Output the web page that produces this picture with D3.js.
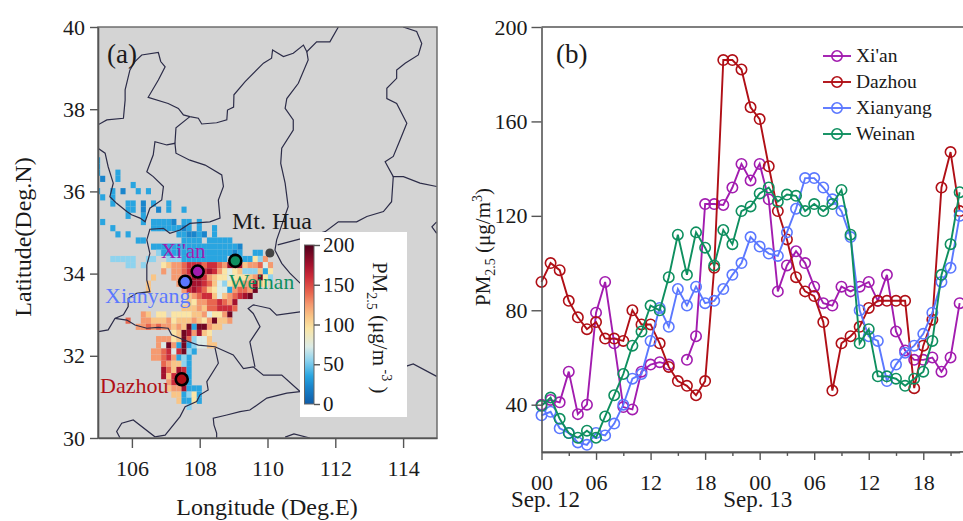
<!DOCTYPE html>
<html>
<head>
<meta charset="utf-8">
<script src="https://cdn.jsdelivr.net/npm/d3@7"></script>
<style>
html, body { margin: 0; padding: 0; background: #fff; overflow: hidden; }
svg { display: block; }
text { font-family: "Liberation Serif", serif; fill: #1a1a1a; }
</style>
</head>
<body>
<svg id="chart" width="963" height="521"></svg>
<script>
/*Panel (b) values, one per hour from Sep. 12 00:00. null means no observation*/
const hours = d3.range(0, 47);
const xianValues = [40,42,41,54,36,40,79,92,66,39,38,54,57,58,57,null,59,69,125,125,124.6,132,142,135,142,127,88,99,105,100,90,83,82,90,88,90,92,84,95,71,63,59,59,60,54,60,83];
const dazhouValues = [92,100,97,84,77,72,75,68,68,67,80,74,74,66,56,50,48,44,50,98,186,186,182,166,161,141,122,110,94,88,86,75,46,66,69,73,81,84,84,84,84,47,65,76,132,147,122];
const xianyangValues = [35.5,37,30,28,24,23,28,27,32,40,51,53,67,81,73,89,82,90,83,84,89,95,100,111,107,104,103,113,123,136,136,132,127,122,111,80,69,67,50,57,62,65,70,79,92,98,120];
const weinanValues = [39.5,43,34,28,26,29,26,35,44,53,65,71,82,80,94,112,95,113,106.5,99,114,108,122,124,129.5,132,126,129,128.5,122,125,122,125,131,112,66,72,52,52,51,48,51,54,67,95,108,130];
const seriesNames = ["Xi'an", "Dazhou", "Xianyang", "Weinan"];
const seriesValues = [xianValues, dazhouValues, xianyangValues, weinanValues];
const seriesColors = ["#a21caf", "#b00f16", "#5b78ff", "#0e8f5f"];
const hourTicks = [0, 6, 12, 18, 24, 30, 36, 42];
const hourLabels = ["00", "06", "12", "18", "00", "06", "12", "18"];
const pmTicks = [40, 80, 120, 160, 200];

/*Panel (a) sites as lon, lat*/
const siteLon = [107.94, 107.47, 107.57, 109.05];
const siteLat = [34.05, 31.43, 33.80, 34.31];
const huaLon = 110.07;
const huaLat = 34.50;

/*Heat cells: [grid row, first grid column, one letter per cell]. Letters are looked up in cellLevels.
Grid is 0.15 deg in both directions, see gridLon0 and gridLat0*/
const gridLon0 = 105.063;
const gridLat0 = 36.23;
const gridStep = 0.15;
const cellLevels = {a:22, b:35, c:55, d:72, e:95, f:110, g:125, h:140, i:160, j:175, k:190};
const heatSegments = [
    [-4,-1,"b"],[-3,-1,"b"],[-2,-1,"b"],[-2,3,"b"],[-1,0,"a"],[-1,3,"b"],
    [0,6,"b"],
    [1,-1,"b"],[1,2,"b"],[1,4,"a"],[1,7,"b"],[1,9,"b"],
    [2,0,"b"],[2,2,"b"],
    [3,2,"b"],[3,5,"bb"],[3,8,"a"],[3,10,"b"],[3,13,"b"],
    [4,5,"bb"],[4,8,"a"],[4,11,"a"],[4,13,"b"],[4,16,"b"],
    [5,5,"b"],[5,8,"b"],
    [6,0,"b"],[6,8,"b"],[6,10,"bbbba"],[6,16,"bb"],[6,19,"b"],
    [7,2,"b"],[7,10,"bbbbbbab"],[7,19,"b"],[7,22,"b"],
    [8,3,"b"],[8,5,"b"],[8,15,"bbaab"],[8,20,"a"],[8,22,"b"],
    [9,7,"bb"],[9,16,"bbbb"],[9,21,"bbbb"],[9,25,"b"],
    [10,10,"bbbbbbbbbbbbbbbbba"],
    [11,11,"cbbbbbbbbbbbbbbab"],[11,30,"bb"],
    [12,2,"ccccc"],[12,9,"cc"],[12,13,"ccc"],[12,16,"bbbbbbbbb"],[12,27,"bb"],[12,29,"b"],[12,30,"e"],[12,31,"c"],[12,32,"g"],
    [13,5,"cc"],[13,8,"c"],[13,12,"efgghiiihiihgjjjfgghdg"],
    [14,12,"g"],[14,14,"gghijjijigedefcccfbe"],
    [15,10,"f"],[15,14,"gghijjigfeedeeefgkec"],
    [16,9,"f"],[16,15,"ghijjihfdceffggjfe"],
    [17,9,"f"],[17,16,"gijihfeddbghhgk"],
    [18,17,"fghiifdfghijk"],
    [19,17,"fegghhihgj"],
    [20,16,"fffgfhhiiih"],
    [21,8,"gf"],[21,11,"ee"],[21,14,"eeeeffgdeegk"],
    [22,5,"h"],[22,8,"ggfffgefffgfegkffg"],
    [23,7,"gghghggfgfkbkkgff"],
    [24,14,"efkjgjfe"],
    [25,11,"gggefkhcddf"],
    [26,11,"gdkgbkbcddff"],
    [27,10,"gghidikcb"],
    [28,10,"gghigbcb"],
    [29,12,"hgffcb"],
    [30,12,"jhfjib"],
    [31,12,"jfiigb"],
    [32,13,"giijb"],
    [33,13,"fggjbbb"],
    [34,14,"ffbceb"],
    [35,15,"fbbeb"],
    [36,17,"c"]
];

/*Colour table of the PM2.5 scale*/
const colorDomain = [0,22,35,55,72,95,110,125,140,160,175,200];
const colorRange = ["#0f5ca8","#1a85cc","#29a5e0","#8fd3ee","#dcebe6","#fae5a5","#f9c586","#f59a70","#e8664f","#cc2c3a","#a4122e","#4f001c"];
const colorbarTicks = [0, 50, 100, 150, 200];

/*Province borders as [lon, lat] lists*/
const borderLines = [
    [[105,37.62],[105.26,37.74],[105.75,37.78],[105.8,38.22],[105.8,38.47],[105.94,38.95],[106.09,39.16],[106.29,39.32],[106.78,39.38],[106.85,39.16],[106.98,39.03],[106.78,38.71],[106.48,38.29],[107.07,38.14],[107.37,38.02],[107.52,37.86],[107.71,37.82],[107.96,37.78],[108.06,37.64],[108.5,37.67],[108.8,37.74],[108.82,37.98],[109,38.05],[109.01,38.35],[109.34,38.67],[109.88,39.12],[110.12,39.24],[110.15,39.44],[110.47,39.28],[110.76,39.36],[111.06,39.56],[111.16,39.4],[111.45,39.64],[111.84,39.64],[112.09,40]],
    [[111.16,39.4],[111.2,39.2],[110.91,38.63],[110.57,38.26],[110.52,38.02],[110.76,37.74],[110.76,37.49],[110.42,37.05],[110.39,36.68],[110.52,36.2],[110.61,35.63],[110.27,34.82],[110.22,34.57],[110.42,34.25],[110.66,34.01],[111.06,33.69]],
    [[114.99,36.12],[114.5,36.2],[114.01,36.36],[113.71,36.36],[113.66,35.75],[113.42,35.51],[112.93,35.39],[112.63,35.26],[112.09,35.26],[111.7,35.02],[111,34.85],[110.3,34.7]],
    [[114,40],[114.4,39.89],[114.55,39.6],[114.45,39.32],[114.06,39.12],[113.81,38.95],[113.81,38.75],[113.52,38.51],[113.52,38.26],[113.81,38.14],[114.11,37.66],[113.91,37.25],[113.71,36.85],[113.47,36.72],[113.71,36.36]],
    [[114.99,35.26],[114.85,35.14],[114.99,34.98]],
    [[105,37.05],[105.21,36.93],[105.3,36.6],[105.45,36.2],[105.35,35.87],[105.55,35.71],[105.85,35.51],[105.99,35.43],[106.24,35.35],[106.39,35.26],[106.53,35.59],[106.88,35.79],[106.93,36.12],[106.63,36.36],[106.44,36.48],[106.63,36.89],[106.68,37.21],[107.03,37.13],[107.27,37.17],[107.3,36.93],[107.71,36.76],[108.16,36.64],[108.65,36.4],[108.7,36.12],[108.55,35.79],[108.6,35.35],[108.3,35.26],[107.71,35.22],[107.42,35.06],[107.12,34.98],[106.93,35.1],[106.53,35.08],[106.44,34.82],[106.53,34.49],[106.44,34.21],[106.44,33.84],[106.53,33.56],[106.14,33.52],[105.89,33.4],[105.89,33.2],[105.75,33],[105.5,32.91],[105.3,32.63],[105.01,32.59]],
    [[107.71,37.82],[107.3,37.55],[107.27,37.17]],
    [[105.5,32.91],[105.85,32.87],[106.09,32.75],[106.44,32.67],[106.78,32.69],[107.07,32.67],[107.17,32.51],[107.52,32.39],[107.96,32.26],[108.45,32.22],[108.99,32.02],[109.29,31.69],[109.58,31.73],[109.88,31.53],[110.42,31.53],[110.96,31.13]],
    [[108.45,32.2],[108.55,31.82],[108.21,31.37],[108.25,31.17],[108.01,31.05],[107.91,30.89],[107.57,30.76],[107.42,30.52],[106.98,30.07],[106.68,30.03],[106.04,30.44],[105.7,30.36],[105.55,30.16],[105.65,30]],
    [[109.63,31.73],[109.53,32.14],[109.48,32.34],[109.78,32.71],[109.58,33.03],[109.43,33.15],[109.58,33.24],[110.07,33.15],[110.27,32.99],[110.96,33.07]],
    [[108.5,30],[108.5,30.12],[108.42,30.32],[108.4,30.48],[108.8,30.56],[109.19,30.64],[109.48,30.68],[109.98,30.97],[110.57,31.09],[110.96,31.13]],
    [[110.52,30.02],[110.78,30.1],[111.25,30]],
    [[114.1,31.75],[114.3,31.8],[114.99,31.5]]
];

const svg = d3.select("#chart");

/*helper for the axis lines and labels look*/
function styleAxis(g, size){
    g.selectAll("path").attr("stroke", "#555").attr("stroke-width", 1.6);
    g.selectAll("line").attr("stroke", "#555").attr("stroke-width", 1.4);
    g.selectAll("text").style("font-family", '"Liberation Serif", serif').style("font-size", size + "px").attr("fill", "#1a1a1a");
}

/*-----------------------------------panel (a)-----------------------------------*/
const mapX = d3.scaleLinear().domain([105, 115]).range([98, 437]);
const mapY = d3.scaleLinear().domain([30, 40]).range([438, 27]);
const pmColor = d3.scaleLinear().domain(colorDomain).range(colorRange);

svg.append("clipPath").attr("id", "mapClip").append("rect")
    .attr("x", mapX(105)).attr("y", mapY(40))
    .attr("width", mapX(115) - mapX(105)).attr("height", mapY(30) - mapY(40));

svg.append("rect")
    .attr("x", mapX(105)).attr("y", mapY(40))
    .attr("width", mapX(115) - mapX(105)).attr("height", mapY(30) - mapY(40))
    .attr("fill", "#d4d4d4");

const mapLayer = svg.append("g").attr("clip-path", "url(#mapClip)");

/*unpack segments to cells*/
let heatCells = [];
heatSegments.forEach(seg=>{
    seg[2].split("").forEach((ch, i)=>{
        heatCells.push({row: seg[0], col: seg[1] + i, value: cellLevels[ch]});
    });
});

mapLayer.selectAll("rect.cell")
    .data(heatCells)
    .enter()
    .append("rect")
    .attr("class", "cell")
    .attr("x", d=>mapX(gridLon0 + d.col * gridStep))
    .attr("y", d=>mapY(gridLat0 - d.row * gridStep))
    .attr("width", d=>mapX(gridLon0 + (d.col + 1) * gridStep) - mapX(gridLon0 + d.col * gridStep))
    .attr("height", d=>mapY(gridLat0 - (d.row + 1) * gridStep) - mapY(gridLat0 - d.row * gridStep))
    .attr("fill", d=>pmColor(d.value));

const borderPath = d3.line().x(d=>mapX(d[0])).y(d=>mapY(d[1]));
mapLayer.selectAll("path.border")
    .data(borderLines)
    .enter()
    .append("path")
    .attr("class", "border")
    .attr("d", borderPath)
    .attr("fill", "none")
    .attr("stroke", "#2c2c48")
    .attr("stroke-width", 1.2);

/*site labels sit under the colorbar box text order wise, same as the original*/
svg.append("text").attr("x", 161).attr("y", 258).style("font-size", "21px").attr("fill", seriesColors[0]).style("fill", seriesColors[0]).text("Xi'an");
svg.append("text").attr("x", 229).attr("y", 289).style("font-size", "21.5px").style("fill", seriesColors[3]).text("Weinan");
svg.append("text").attr("x", 105).attr("y", 303).style("font-size", "22px").style("fill", seriesColors[2]).text("Xianyang");
svg.append("text").attr("x", 100).attr("y", 393).style("font-size", "22px").style("fill", seriesColors[1]).text("Dazhou");
svg.append("text").attr("x", 232).attr("y", 229).style("font-size", "24px").text("Mt. Hua");
svg.append("text").attr("x", 107).attr("y", 63).style("font-size", "27px").text("(a)");

svg.append("circle").attr("cx", mapX(huaLon)).attr("cy", mapY(huaLat)).attr("r", 4.5).attr("fill", "#444");

svg.selectAll("circle.site")
    .data(seriesNames)
    .enter()
    .append("circle")
    .attr("class", "site")
    .attr("cx", (d, i)=>mapX(siteLon[i]))
    .attr("cy", (d, i)=>mapY(siteLat[i]))
    .attr("r", 6)
    .attr("fill", (d, i)=>seriesColors[i])
    .attr("stroke", "#000")
    .attr("stroke-width", 2.6);

/*colorbar box*/
svg.append("rect").attr("x", 300).attr("y", 232).attr("width", 107).attr("height", 185).attr("fill", "#fff");

const barScale = d3.scaleLinear().domain([0, 200]).range([404, 245]);
const barGradient = svg.append("defs").append("linearGradient")
    .attr("id", "pmGradient")
    .attr("x1", 0).attr("y1", 1).attr("x2", 0).attr("y2", 0);
barGradient.selectAll("stop")
    .data(colorDomain.concat([]))
    .enter()
    .append("stop")
    .attr("offset", d=>d / 200)
    .attr("stop-color", d=>pmColor(d));

svg.append("rect")
    .attr("x", 304.5).attr("y", barScale(200))
    .attr("width", 9.5).attr("height", barScale(0) - barScale(200))
    .attr("fill", "url(#pmGradient)")
    .attr("stroke", "#666")
    .attr("stroke-width", 1);

svg.append("g")
    .attr("transform", "translate(314,0)")
    .call(d3.axisRight(barScale).tickValues(colorbarTicks).tickSize(6).tickPadding(3))
    .call(g=>g.select(".domain").remove())
    .call(g=>styleAxis(g, 21));

const barTitle = svg.append("text")
    .attr("transform", "translate(373,262) rotate(90)")
    .style("font-size", "21px");
barTitle.append("tspan").text("PM");
barTitle.append("tspan").attr("dy", 6).style("font-size", "14px").text("2.5");
barTitle.append("tspan").attr("dy", -6).text(" (μg/m");
barTitle.append("tspan").attr("dy", -9).style("font-size", "14px").text(" -3");
barTitle.append("tspan").attr("dy", 9).text(" )");

/*frame and axes of the map*/
svg.append("rect")
    .attr("x", mapX(105)).attr("y", mapY(40))
    .attr("width", mapX(115) - mapX(105)).attr("height", mapY(30) - mapY(40))
    .attr("fill", "none").attr("stroke", "#666").attr("stroke-width", 1.4);

svg.append("g")
    .attr("transform", "translate(0," + mapY(30) + ")")
    .call(d3.axisBottom(mapX).tickValues([106, 108, 110, 112, 114]).tickSize(10).tickSizeOuter(0).tickPadding(12))
    .call(g=>styleAxis(g, 22));

svg.append("g")
    .attr("transform", "translate(" + mapX(105) + ",0)")
    .call(d3.axisLeft(mapY).tickValues([30, 32, 34, 36, 38, 40]).tickSize(8).tickSizeOuter(0).tickPadding(5))
    .call(g=>styleAxis(g, 22));

svg.append("text").attr("x", 267).attr("y", 515).attr("text-anchor", "middle").style("font-size", "24px").text("Longitude (Deg.E)");
svg.append("text").attr("transform", "translate(31,237) rotate(-90)").attr("text-anchor", "middle").style("font-size", "24px").text("Latitude(Deg.N)");

/*-----------------------------------panel (b)-----------------------------------*/
const timeX = d3.scaleLinear().domain([0, 46]).range([541.5, 541.5 + 9.09 * 46]);
const pmY = d3.scaleLinear().domain([20, 200]).range([451.9, 27]);

const seriesLine = d3.line()
    .defined(d=>d.value !== null)
    .x(d=>timeX(d.hour))
    .y(d=>pmY(d.value));

seriesNames.forEach((name, i)=>{
    const points = hours.map((h, j)=>({hour: h, value: seriesValues[i][j]}));
    const g = svg.append("g").attr("class", "series");
    g.append("path")
        .attr("d", seriesLine(points))
        .attr("fill", "none")
        .attr("stroke", seriesColors[i])
        .attr("stroke-width", 1.9);
    g.selectAll("circle")
        .data(points.filter(d=>d.value !== null))
        .enter()
        .append("circle")
        .attr("cx", d=>timeX(d.hour))
        .attr("cy", d=>pmY(d.value))
        .attr("r", 5.2)
        .attr("fill", "none")
        .attr("stroke", seriesColors[i])
        .attr("stroke-width", 1.6);
});

/*top spine runs out of the picture on the right*/
svg.append("line")
    .attr("x1", timeX(0)).attr("x2", 963)
    .attr("y1", pmY(200)).attr("y2", pmY(200))
    .attr("stroke", "#555").attr("stroke-width", 1.6);

const minorHours = d3.range(3, 47, 6);
svg.append("g")
    .attr("transform", "translate(0," + pmY(20) + ")")
    .call(d3.axisBottom(timeX).tickValues(minorHours).tickSize(4).tickSizeOuter(0).tickFormat(""))
    .call(g=>styleAxis(g, 22));
svg.append("line")
    .attr("x1", timeX(46)).attr("x2", 963)
    .attr("y1", pmY(20)).attr("y2", pmY(20))
    .attr("stroke", "#555").attr("stroke-width", 1.6);
svg.append("g")
    .attr("transform", "translate(0," + pmY(20) + ")")
    .call(d3.axisBottom(timeX).tickValues(hourTicks).tickSize(8).tickSizeOuter(0).tickPadding(14).tickFormat((d, i)=>hourLabels[i]))
    .call(g=>styleAxis(g, 22));

svg.append("g")
    .attr("transform", "translate(" + timeX(0) + ",0)")
    .call(d3.axisLeft(pmY).tickValues(pmTicks).tickSize(10).tickSizeOuter(0).tickPadding(4))
    .call(g=>styleAxis(g, 22));

svg.append("text").attr("x", timeX(0) + 4).attr("y", 507).attr("text-anchor", "middle").style("font-size", "23px").text("Sep. 12");
svg.append("text").attr("x", timeX(24) - 2).attr("y", 507).attr("text-anchor", "middle").style("font-size", "23px").text("Sep. 13");
svg.append("text").attr("x", 556).attr("y", 63).style("font-size", "27px").text("(b)");

const pmTitle = svg.append("text")
    .attr("transform", "translate(490,306) rotate(-90)")
    .style("font-size", "21px");
pmTitle.append("tspan").text("PM");
pmTitle.append("tspan").attr("dy", 5).style("font-size", "14px").text("2.5");
pmTitle.append("tspan").attr("dy", -5).text(" (μg/m");
pmTitle.append("tspan").attr("dy", -8).style("font-size", "14px").text("3");
pmTitle.append("tspan").attr("dy", 8).text(")");

/*legend*/
const legendRowY = d3.scalePoint().domain(seriesNames).range([56, 134]);
const legend = svg.append("g").attr("id", "legend");
seriesNames.forEach((name, i)=>{
    const y = legendRowY(name);
    legend.append("line").attr("x1", 823).attr("x2", 851).attr("y1", y).attr("y2", y)
        .attr("stroke", seriesColors[i]).attr("stroke-width", 1.9);
    legend.append("circle").attr("cx", 837).attr("cy", y).attr("r", 5.2)
        .attr("fill", "none").attr("stroke", seriesColors[i]).attr("stroke-width", 1.6);
    legend.append("text").attr("x", 856).attr("y", y + 6).style("font-size", "19.5px").text(name);
});
</script>
</body>
</html>
